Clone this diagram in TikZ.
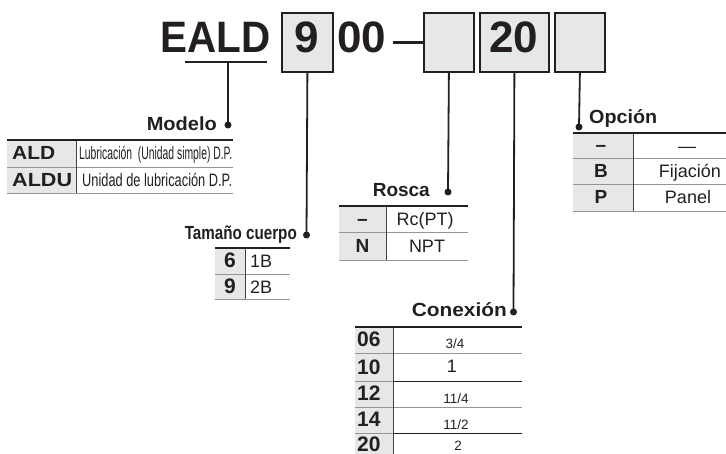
\documentclass[tikz,border=0pt]{standalone}
\usepackage{fontspec}
\setmainfont{Liberation Sans}
\usepackage{graphicx}
\definecolor{ink}{HTML}{231F20}
\definecolor{boxfill}{HTML}{E6E7E8}
\definecolor{rulegray}{HTML}{939598}
\newcommand{\fw}[2]{\resizebox{#1pt}{\height}{#2}}
\begin{document}
\begin{tikzpicture}[x=1pt,y=-1pt,
  title/.style={inner sep=0,text=ink,font=\fontsize{44}{44}\selectfont\bfseries},
  lbl/.style={inner sep=0,text=ink,font=\fontsize{19}{19}\selectfont\bfseries},
  keytxt/.style={inner sep=0,text=ink,font=\fontsize{19}{19}\selectfont\bfseries},
  bigkey/.style={inner sep=0,text=ink,font=\fontsize{21}{21}\selectfont\bfseries},
  valtxt/.style={inner sep=0,text=ink,font=\fontsize{18}{18}\selectfont},
  smalltxt/.style={inner sep=0,text=ink,font=\fontsize{13.5}{13.5}\selectfont},
  toprule/.style={draw=ink,line width=2pt},
  midrule/.style={draw=rulegray,line width=0.9pt},
  darkrule/.style={draw=ink,line width=0.9pt},
  colrule/.style={draw=ink!85,line width=0.9pt},
  codebox/.style={draw=ink,line width=1.8pt,fill=boxfill,inner sep=0,anchor=north west},
  lead/.style={draw=ink,line width=1.8pt},
  dotnode/.style={circle,fill=ink,inner sep=0,minimum size=7pt}
]
\useasboundingbox (0,0) rectangle (726,454);

% ---------- part number ----------
\node[title,anchor=base west] (eald) at (160,53) {\fw{110}{EALD}};
\node[codebox,minimum width=51pt,minimum height=59pt] (b9) at (281,12) {};
\node[title,anchor=base] (t9) at (306.5,53) {9};
\node[title,anchor=base west] (t00) at (337,53) {00};
\node[codebox,minimum width=50pt,minimum height=59pt] (bthread) at (423,12) {};
\node[codebox,minimum width=69pt,minimum height=59pt] (b20) at (479,12) {};
\node[title,anchor=base] (t20) at (513.5,53) {20};
\node[codebox,minimum width=50pt,minimum height=59pt] (bopt) at (554,12) {};
\coordinate (dashL) at (393,43);
\coordinate (dashR) at (423,43);
\draw[draw=ink,line width=3pt] (dashL) -- (dashR);
\coordinate (ulL) at (185,62);
\coordinate (ulR) at (267,62);
\coordinate (ulM) at (228,62);
\draw[draw=ink,line width=2.4pt] (ulL) -- (ulR);

% ---------- leader dots ----------
\node[dotnode] (dmod) at (228,125) {};
\node[dotnode] (dsize) at (306.5,235) {};
\node[dotnode] (dthr) at (448,192) {};
\node[dotnode] (dcon) at (513.5,312) {};
\node[dotnode] (dopt) at (579,127) {};
\draw[lead] (ulM) -- (dmod.center);
\draw[lead] (b9.south) -- (dsize.center);
\draw[lead] (bthread.south) -- (dthr.center);
\draw[lead] (b20.south) -- (dcon.center);
\draw[lead] (bopt.south) -- (dopt.center);

% ---------- Modelo ----------
\node[lbl,anchor=base east] (lmod) at (217,131) {\fw{70}{Modelo}};
\fill[boxfill] (7,140) rectangle (76,193);
\draw[midrule] (7,167) -- (233,167);
\draw[midrule] (7,193) -- (233,193);
\draw[colrule] (76,140) -- (76,193);
\draw[toprule] (7,140) -- (233,140);
\node[keytxt,anchor=base west] (mk1) at (12,160) {\fw{43}{ALD}};
\node[keytxt,anchor=base west] (mk2) at (12,187) {\fw{60}{ALDU}};
\node[valtxt,anchor=base west] (mv1) at (79,160) {\fw{153}{Lubricación\ \ (Unidad simple) D.P.}};
\node[valtxt,anchor=base west] (mv2) at (82,187) {\fw{150}{Unidad de lubricación D.P.}};

% ---------- Tamaño cuerpo ----------
\node[lbl,anchor=base east] (lsize) at (297,240) {\fw{112}{Tamaño cuerpo}};
\fill[boxfill] (215,248) rectangle (245,299);
\draw[midrule] (215,274) -- (290,274);
\draw[midrule] (215,299) -- (290,299);
\draw[colrule] (245,248) -- (245,299);
\draw[toprule] (215,248) -- (290,248);
\node[bigkey,anchor=base] (sk1) at (230,268) {6};
\node[bigkey,anchor=base] (sk2) at (230,294) {9};
\node[valtxt,anchor=base west] (sv1) at (250,268) {1B};
\node[valtxt,anchor=base west] (sv2) at (250,294) {2B};

% ---------- Rosca ----------
\node[lbl,anchor=base east] (lthr) at (430,197) {\fw{57}{Rosca}};
\fill[boxfill] (339,206) rectangle (386,260);
\draw[midrule] (339,232) -- (468,232);
\draw[midrule] (339,260) -- (468,260);
\draw[colrule] (386,206) -- (386,260);
\draw[toprule] (339,206) -- (468,206);
\node[keytxt,anchor=base] (rk1) at (362.5,226) {–};
\node[keytxt,anchor=base] (rk2) at (362.5,253) {N};
\node[valtxt,anchor=base] (rv1) at (425,226) {Rc(PT)};
\node[valtxt,anchor=base] (rv2) at (427,253) {NPT};

% ---------- Opción ----------
\node[lbl,anchor=base west] (lopt) at (589,124) {\fw{68}{Opción}};
\fill[boxfill] (573,133) rectangle (633,211);
\draw[midrule] (573,158) -- (726,158);
\draw[midrule] (573,184) -- (726,184);
\draw[midrule] (573,211) -- (726,211);
\draw[colrule] (633,133) -- (633,211);
\draw[toprule] (573,133) -- (726,133);
\node[keytxt,anchor=base] (ok1) at (601,152) {–};
\node[keytxt,anchor=base] (ok2) at (601,178) {B};
\node[keytxt,anchor=base] (ok3) at (601,204) {P};
\node[valtxt,anchor=base] (ov1) at (687,153) {—};
\node[valtxt,anchor=base] (ov2) at (690,178) {Fijación};
\node[valtxt,anchor=base] (ov3) at (688,204) {Panel};

% ---------- Conexión ----------
\node[lbl,anchor=base east] (lcon) at (507,317) {\fw{95}{Conexión}};
\fill[boxfill] (355,327) rectangle (393,454);
\draw[midrule] (355,353) -- (522,353);
\draw[midrule] (355,381) -- (393,381);
\draw[darkrule] (393,381) -- (522,381);
\draw[midrule] (355,407) -- (522,407);
\draw[midrule] (355,433) -- (393,433);
\draw[darkrule] (393,433) -- (522,433);
\draw[colrule] (393,327) -- (393,454);
\draw[toprule] (355,327) -- (522,327);
\node[bigkey,anchor=base west] (ck1) at (357,347) {06};
\node[bigkey,anchor=base west] (ck2) at (357,374) {10};
\node[bigkey,anchor=base west] (ck3) at (357,400) {12};
\node[bigkey,anchor=base west] (ck4) at (357,426) {14};
\node[bigkey,anchor=base west] (ck5) at (357,451) {20};
\node[smalltxt,anchor=base] (cv1) at (455,349) {3/4};
\node[valtxt,anchor=base] (cv2) at (452,373) {1};
\node[smalltxt,anchor=base] (cv3) at (456,403) {11/4};
\node[smalltxt,anchor=base] (cv4) at (456,429) {11/2};
\node[smalltxt,anchor=base] (cv5) at (458,450) {2};
\end{tikzpicture}
\end{document}
